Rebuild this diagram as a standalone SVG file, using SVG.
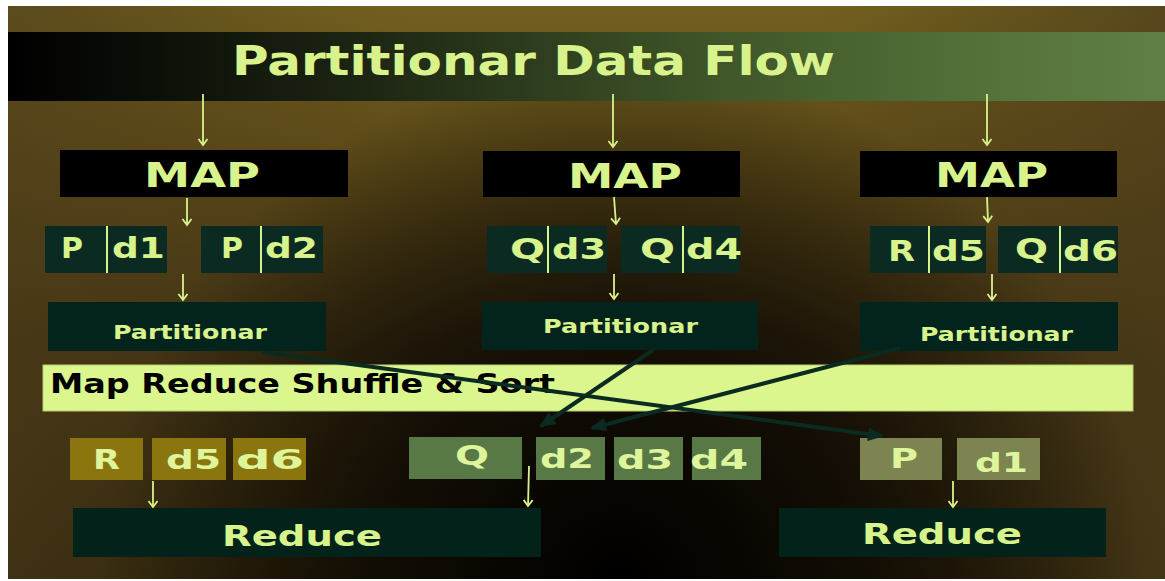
<svg xmlns="http://www.w3.org/2000/svg" width="1165" height="581" viewBox="0 0 1165 581">
<defs>
<linearGradient id="bgLin" x1="0" y1="0" x2="0" y2="1">
<stop offset="0" stop-color="#73601f"/>
<stop offset="0.25" stop-color="#5e4b18"/>
<stop offset="0.6" stop-color="#3e3012"/>
<stop offset="1" stop-color="#2c2209"/>
</linearGradient>
<linearGradient id="bgSide" x1="0" y1="0" x2="1" y2="0">
<stop offset="0" stop-color="#4c3c1a" stop-opacity="0.6"/>
<stop offset="0.35" stop-color="#4c3c1a" stop-opacity="0"/>
<stop offset="0.7" stop-color="#4c3c1a" stop-opacity="0"/>
<stop offset="1" stop-color="#4c3c1a" stop-opacity="0.7"/>
</linearGradient>
<radialGradient id="bgDark" cx="620" cy="580" r="520" gradientUnits="userSpaceOnUse">
<stop offset="0" stop-color="#000000" stop-opacity="1"/>
<stop offset="0.45" stop-color="#0a0602" stop-opacity="0.8"/>
<stop offset="1" stop-color="#000000" stop-opacity="0"/>
</radialGradient>
<linearGradient id="titleGrad" x1="0" y1="0" x2="1" y2="0">
<stop offset="0" stop-color="#000000"/>
<stop offset="0.3" stop-color="#1c2412"/>
<stop offset="0.6" stop-color="#3e5428"/>
<stop offset="0.85" stop-color="#54723a"/>
<stop offset="1" stop-color="#607f44"/>
</linearGradient>
<marker id="lightArrow" markerUnits="userSpaceOnUse" markerWidth="12" markerHeight="12" refX="10" refY="6" orient="auto" viewBox="0 0 12 12">
<polyline points="4,1.5 10,6 4,10.5" fill="none" stroke="#d8f38c" stroke-width="1.8"/>
</marker>
<marker id="darkArrow" markerUnits="userSpaceOnUse" markerWidth="20" markerHeight="20" refX="16" refY="10" orient="auto" viewBox="0 0 20 20">
<path d="M2,3 L18,10 L2,17 Z" fill="#0b2a20"/>
</marker>
</defs>
<style>
.map{fill:#000000}
.cell{fill:#0b2b22}
.part{fill:#03241c}
.red{fill:#02221a}
.gold{fill:#8b750f}
.grn{fill:#587946}
.oli{fill:#7d8451}
.lt{fill:#d8f38c;font-family:"DejaVu Sans","Liberation Sans",sans-serif;font-weight:bold}
.lt2{fill:#def59c;font-family:"DejaVu Sans","Liberation Sans",sans-serif;font-weight:bold}
.div{stroke:#d8f38c;stroke-width:2}
.la{fill:none;stroke:#d8f38c;stroke-width:1.8;marker-end:url(#lightArrow)}
.da{fill:none;stroke:#0b2a20;stroke-width:4;marker-end:url(#darkArrow)}
</style>
<rect x="0" y="0" width="1165" height="581" fill="#ffffff"/>
<rect x="8" y="6" width="1157" height="573" fill="url(#bgLin)"/>
<rect x="8" y="6" width="1157" height="573" fill="url(#bgSide)"/>
<rect x="8" y="6" width="1157" height="573" fill="url(#bgDark)"/>

<g id="title">
<rect x="8" y="32" width="1157" height="69" fill="url(#titleGrad)"/>
<text class="lt" x="232" y="75" font-size="40" textLength="603" lengthAdjust="spacingAndGlyphs">Partitionar Data Flow</text>
</g>

<g id="map1"><rect class="map" x="60" y="150" width="288" height="47"/><text class="lt" x="144" y="187" font-size="34" textLength="116" lengthAdjust="spacingAndGlyphs">MAP</text></g>
<g id="map2"><rect class="map" x="483" y="151" width="257" height="46"/><text class="lt" x="568" y="188" font-size="34" textLength="114" lengthAdjust="spacingAndGlyphs">MAP</text></g>
<g id="map3"><rect class="map" x="860" y="151" width="257" height="46"/><text class="lt" x="935" y="187" font-size="34" textLength="113" lengthAdjust="spacingAndGlyphs">MAP</text></g>

<g id="pd1"><rect class="cell" x="45" y="226" width="122" height="47"/><line class="div" x1="107" y1="226" x2="107" y2="273"/><text class="lt" x="61" y="258" font-size="28" textLength="22" lengthAdjust="spacingAndGlyphs">P</text><text class="lt" x="112" y="258" font-size="28" textLength="53" lengthAdjust="spacingAndGlyphs">d1</text></g>
<g id="pd2"><rect class="cell" x="201" y="226" width="122" height="47"/><line class="div" x1="261" y1="226" x2="261" y2="273"/><text class="lt" x="221" y="258" font-size="28" textLength="22" lengthAdjust="spacingAndGlyphs">P</text><text class="lt" x="265" y="258" font-size="28" textLength="53" lengthAdjust="spacingAndGlyphs">d2</text></g>
<g id="qd3"><rect class="cell" x="487" y="226" width="120" height="47"/><line class="div" x1="548" y1="226" x2="548" y2="273"/><text class="lt" x="510" y="259" font-size="28" textLength="35" lengthAdjust="spacingAndGlyphs">Q</text><text class="lt" x="552" y="259" font-size="28" textLength="54" lengthAdjust="spacingAndGlyphs">d3</text></g>
<g id="qd4"><rect class="cell" x="621" y="226" width="119" height="47"/><line class="div" x1="683" y1="226" x2="683" y2="273"/><text class="lt" x="640" y="259" font-size="28" textLength="35" lengthAdjust="spacingAndGlyphs">Q</text><text class="lt" x="686" y="259" font-size="28" textLength="56" lengthAdjust="spacingAndGlyphs">d4</text></g>
<g id="rd5"><rect class="cell" x="870" y="226" width="116" height="47"/><line class="div" x1="929" y1="226" x2="929" y2="273"/><text class="lt" x="888" y="261" font-size="28" textLength="27" lengthAdjust="spacingAndGlyphs">R</text><text class="lt" x="932" y="261" font-size="28" textLength="53" lengthAdjust="spacingAndGlyphs">d5</text></g>
<g id="qd6"><rect class="cell" x="998" y="226" width="120" height="47"/><line class="div" x1="1060" y1="226" x2="1060" y2="273"/><text class="lt" x="1015" y="259" font-size="28" textLength="33" lengthAdjust="spacingAndGlyphs">Q</text><text class="lt" x="1063" y="261" font-size="28" textLength="55" lengthAdjust="spacingAndGlyphs">d6</text></g>

<g id="partitionar1"><rect class="part" x="48" y="302" width="278" height="49"/><text class="lt" x="113" y="339" font-size="19" textLength="154" lengthAdjust="spacingAndGlyphs">Partitionar</text></g>
<g id="partitionar2"><rect class="part" x="482" y="302" width="276" height="48"/><text class="lt" x="543" y="333" font-size="19" textLength="155" lengthAdjust="spacingAndGlyphs">Partitionar</text></g>
<g id="partitionar3"><rect class="part" x="860" y="302" width="258" height="49"/><text class="lt" x="920" y="341" font-size="19" textLength="153" lengthAdjust="spacingAndGlyphs">Partitionar</text></g>

<g id="shuffle"><rect x="43" y="365" width="1090" height="46" fill="#dbf68c" stroke="#b8cf70" stroke-width="1"/><text x="50" y="393" font-size="26" font-family="DejaVu Sans, Liberation Sans, sans-serif" font-weight="bold" fill="#000000" textLength="505" lengthAdjust="spacingAndGlyphs">Map Reduce Shuffle &amp; Sort</text></g>

<g id="outR"><rect class="gold" x="70" y="438" width="73" height="42"/><rect class="gold" x="152" y="438" width="74" height="42"/><rect class="gold" x="233" y="438" width="73" height="42"/><text class="lt2" x="93" y="469" font-size="27" textLength="27" lengthAdjust="spacingAndGlyphs">R</text><text class="lt2" x="166" y="469" font-size="27" textLength="55" lengthAdjust="spacingAndGlyphs">d5</text><text class="lt2" x="236" y="469" font-size="27" textLength="68" lengthAdjust="spacingAndGlyphs">d6</text></g>
<g id="outQ"><rect class="grn" x="409" y="437" width="113" height="42"/><rect class="grn" x="536" y="437" width="69" height="43"/><rect class="grn" x="614" y="437" width="69" height="43"/><rect class="grn" x="692" y="437" width="69" height="43"/><text class="lt2" x="455" y="465" font-size="27" textLength="34" lengthAdjust="spacingAndGlyphs">Q</text><text class="lt2" x="540" y="468" font-size="27" textLength="54" lengthAdjust="spacingAndGlyphs">d2</text><text class="lt2" x="617" y="469" font-size="27" textLength="56" lengthAdjust="spacingAndGlyphs">d3</text><text class="lt2" x="690" y="469" font-size="27" textLength="58" lengthAdjust="spacingAndGlyphs">d4</text></g>
<g id="outP"><rect class="oli" x="860" y="438" width="82" height="42"/><rect class="oli" x="957" y="438" width="83" height="42"/><text class="lt2" x="890" y="468" font-size="27" textLength="28" lengthAdjust="spacingAndGlyphs">P</text><text class="lt2" x="975" y="472" font-size="27" textLength="53" lengthAdjust="spacingAndGlyphs">d1</text></g>

<g id="reduce1"><rect class="red" x="73" y="508" width="468" height="49"/><text class="lt" x="222" y="546" font-size="28" textLength="160" lengthAdjust="spacingAndGlyphs">Reduce</text></g>
<g id="reduce2"><rect class="red" x="779" y="508" width="327" height="49"/><text class="lt" x="862" y="544" font-size="28" textLength="160" lengthAdjust="spacingAndGlyphs">Reduce</text></g>

<g id="connectors">
<line class="la" x1="203" y1="94" x2="203" y2="145"/>
<line class="la" x1="613" y1="94" x2="613" y2="147"/>
<line class="la" x1="987" y1="94" x2="987" y2="145"/>
<line class="la" x1="187" y1="198" x2="187" y2="225"/>
<line class="la" x1="614" y1="197" x2="616" y2="224"/>
<line class="la" x1="987" y1="197" x2="988" y2="222"/>
<line class="la" x1="183" y1="274" x2="183" y2="300"/>
<line class="la" x1="614" y1="274" x2="614" y2="299"/>
<line class="la" x1="992" y1="274" x2="992" y2="300"/>
<line class="la" x1="153" y1="481" x2="153" y2="507"/>
<line class="la" x1="529" y1="466" x2="528" y2="506"/>
<line class="la" x1="953" y1="481" x2="953" y2="507"/>
<line class="da" x1="262" y1="352" x2="882" y2="436"/>
<line class="da" x1="653" y1="350" x2="541" y2="426"/>
<line class="da" x1="900" y1="348" x2="592" y2="428"/>
</g>
</svg>
